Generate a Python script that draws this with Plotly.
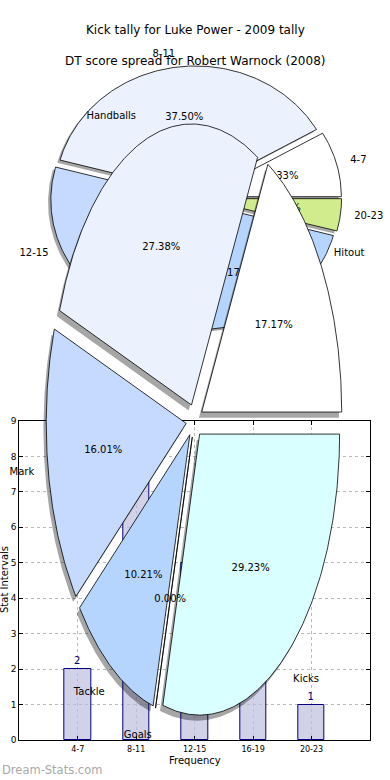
import numpy as np
import plotly.graph_objects as go

# ---------------- data ----------------
kick_bins = ["4-7", "8-11", "12-15", "16-19", "20-23"]
kick_counts = [2, 9, 5, 7, 1]

stat_labels = ["Hitout", "Handballs", "Mark", "Tackle", "Goals", "Kicks"]
stat_shares = [17.17, 27.38, 16.01, 10.21, 0.00, 29.23]

y_ticks = list(range(0, 10))

title_kick = "Kick tally for Luke Power - 2009 tally"
title_dt = "DT score spread for Robert Warnock (2008)"
x_title = "Frequency"
y_title = "Stat Intervals"
watermark = "Dream-Stats.com"

# ---------------- style ----------------
W, H = 390, 780
FONT = "DejaVu Sans"
kick_colors = ["#ffffff", "#ebf2fe", "#c6daff", "#b5d5ff", "#d0ec8c"]
stat_colors = ["#ffffff", "#ebf2fe", "#c6daff", "#b5d5ff", "#d0ec8c", "#d9ffff"]
SHADOW = "rgba(0,0,0,0.35)"


def wedges(values, explode, npts=160):
    vals = np.asarray(values, dtype=float)
    fr = vals / vals.sum()
    starts = 360.0 * np.concatenate([[0.0], np.cumsum(fr)[:-1]])
    ends = starts + 360.0 * fr
    out = []
    for t1, t2, f in zip(starts, ends, fr):
        mid = np.radians((t1 + t2) / 2.0)
        ox, oy = explode * np.cos(mid), explode * np.sin(mid)
        th = np.radians(np.linspace(t1, t2, npts))
        xs = np.concatenate([[ox], ox + np.cos(th), [ox]])
        ys = np.concatenate([[oy], oy + np.sin(th), [oy]])
        out.append(dict(x=xs, y=ys, mid=mid, ox=ox, oy=oy, frac=f))
    return out


fig = go.Figure()

# ---------------- bar chart (subplot 1) ----------------
fig.add_trace(go.Bar(
    x=kick_bins, y=kick_counts, width=0.45,
    marker=dict(color="rgba(190,190,222,0.7)", line=dict(color="#000080", width=1)),
    text=[str(v) for v in kick_counts], textposition="outside",
    textfont=dict(color="#000080", size=10, family=FONT),
    cliponaxis=False, hoverinfo="skip", xaxis="x", yaxis="y",
))


def add_pie(values, labels, colors, explode, xa, ya):
    ws = wedges(values, explode)
    # shadows
    for w in ws:
        fig.add_trace(go.Scatter(
            x=w["x"] - 0.02, y=w["y"] - 0.02, mode="lines", fill="toself",
            fillcolor=SHADOW, line=dict(width=0), hoverinfo="skip",
            xaxis=xa, yaxis=ya, showlegend=False))
    # wedges
    for w, c in zip(ws, colors):
        fig.add_trace(go.Scatter(
            x=w["x"], y=w["y"], mode="lines", fill="toself",
            fillcolor=c, line=dict(color="black", width=0.8), hoverinfo="skip",
            xaxis=xa, yaxis=ya, showlegend=False))
    # texts
    for w, lab in zip(ws, labels):
        cx, cy = np.cos(w["mid"]), np.sin(w["mid"])
        fig.add_trace(go.Scatter(
            x=[w["ox"] + 0.6 * cx], y=[w["oy"] + 0.6 * cy], mode="text",
            text=[f"{100 * w['frac']:.2f}%"], textposition="middle center",
            textfont=dict(family=FONT, size=10, color="black"),
            hoverinfo="skip", xaxis=xa, yaxis=ya, showlegend=False))
        fig.add_trace(go.Scatter(
            x=[w["ox"] + 1.1 * cx], y=[w["oy"] + 1.1 * cy], mode="text",
            text=[lab], textposition="middle right" if cx > 0 else "middle left",
            textfont=dict(family=FONT, size=10, color="black"),
            hoverinfo="skip", xaxis=xa, yaxis=ya, showlegend=False))


add_pie(kick_counts, kick_bins, kick_colors, 0.04, "x2", "y2")
add_pie(stat_shares, stat_labels, stat_colors, 0.06, "x3", "y3")

# ---------------- layout ----------------
# bar axes box in pixels
bx0, bx1, by0, by1 = 19.3, 370.0, 421.0, 740.0


def pie_range(cx, cy, rx, ry):
    return ([(0 - cx) / rx, (W - cx) / rx], [(cy - H) / ry, cy / ry])


p1x, p1y = pie_range(196.0, 198.0, 140.0, 127.0)
p2x, p2y = pie_range(194.5, 420.7, 140.0, 281.0)

hidden = dict(visible=False, showgrid=False, zeroline=False, fixedrange=True)


def note(text, px, py, size, **kw):
    color = kw.pop("color", "black")
    kw.setdefault("xanchor", "center")
    return dict(text=text, x=px / W, y=1 - py / H, xref="paper", yref="paper",
                yanchor="middle", showarrow=False,
                font=dict(size=size, family=FONT, color=color), **kw)


fig.update_layout(
    width=W, height=H, margin=dict(l=0, r=0, t=0, b=0, pad=0, autoexpand=False),
    paper_bgcolor="white", plot_bgcolor="rgba(0,0,0,0)",
    showlegend=False, bargap=0,
    font=dict(family=FONT, color="black"),
    xaxis=dict(domain=[bx0 / W, bx1 / W], anchor="y", type="category",
               range=[-1, 5], showline=True, linecolor="black", linewidth=1,
               mirror="ticks", ticks="inside", ticklen=4, tickcolor="black",
               showgrid=True, gridcolor="#b8b8b8", griddash="dot", gridwidth=1,
               tickfont=dict(size=8, family=FONT), zeroline=False,
               ticklabelstandoff=1, fixedrange=True),
    yaxis=dict(domain=[1 - by1 / H, 1 - by0 / H], anchor="x",
               range=[0, 9], tickvals=y_ticks, showline=True, linecolor="black",
               linewidth=1, mirror="ticks", ticks="inside", ticklen=4,
               tickcolor="black", showgrid=True, gridcolor="#b8b8b8",
               griddash="dot", gridwidth=1, tickfont=dict(size=9, family=FONT),
               zeroline=False, fixedrange=True),
    xaxis2=dict(domain=[0, 1], anchor="y2", range=p1x, **hidden),
    yaxis2=dict(domain=[0, 1], anchor="x2", range=p1y, **hidden),
    xaxis3=dict(domain=[0, 1], anchor="y3", range=p2x, **hidden),
    yaxis3=dict(domain=[0, 1], anchor="x3", range=p2y, **hidden),
    annotations=[
        note(title_kick, W / 2, 30, 12),
        note(title_dt, W / 2, 61, 12),
        note(x_title, (bx0 + bx1) / 2, 760, 10),
        note(y_title, 4, 580, 10, textangle=-90),
        note(watermark, 0, 770, 11.5, xanchor="left", color="#a8a8a8"),
    ],
)

fig.write_html("out.html",
               config={"displayModeBar": False, "responsive": False},
               post_script="document.body.style.margin='0';document.body.style.padding='0';")
